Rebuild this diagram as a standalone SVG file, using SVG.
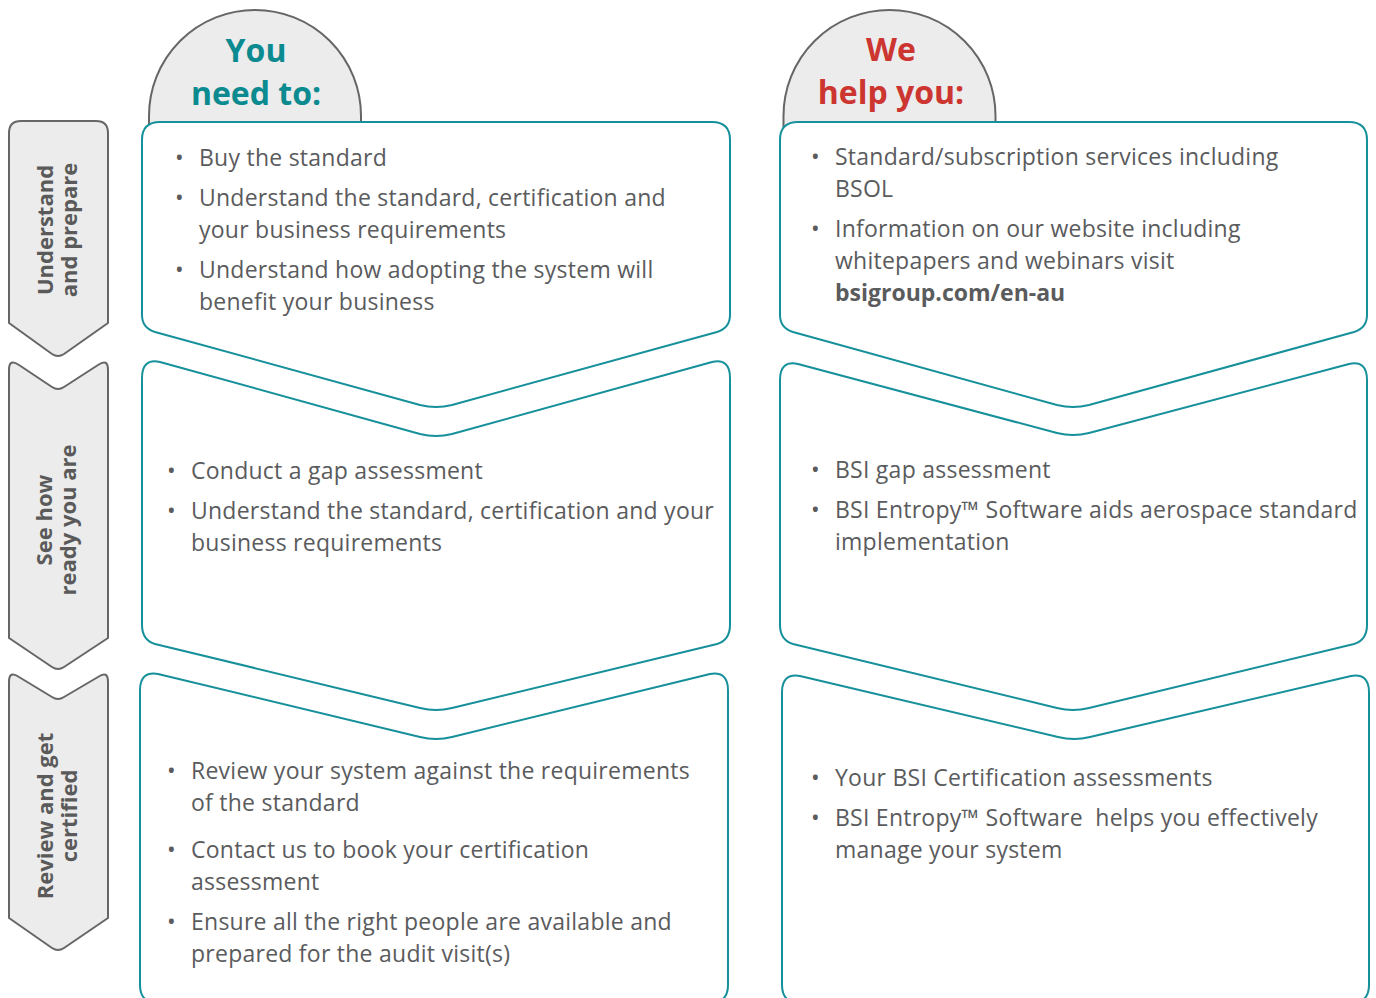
<svg xmlns="http://www.w3.org/2000/svg" width="1376" height="998" viewBox="0 0 1376 998">
<style>
.dome{fill:#ebeceb;stroke:#666;stroke-width:2}
.tab{fill:#ebeceb;stroke:#666;stroke-width:2;stroke-linejoin:round}
.panel{fill:#fff;stroke:#16909a;stroke-width:2;stroke-linejoin:round}
.t{font-family:"Open Sans","Liberation Sans",sans-serif;font-size:23px;fill:#5a5b5d;letter-spacing:0.25px}
.b{font-weight:bold;letter-spacing:0}
.tabt{font-family:"Open Sans","Liberation Sans",sans-serif;font-size:22px;font-weight:bold;fill:#5a5a5a;text-anchor:middle}
.head{font-family:"Open Sans","Liberation Sans",sans-serif;font-size:32px;font-weight:bold;text-anchor:middle}
</style>
<rect width="1376" height="998" fill="#fff"/>
<g id="head-you">
<path class="dome" d="M149,130 V116 A106,106 0 0 1 361,116 V130"/>
<text class="head" x="256" y="62" fill="#0b8a90">You</text>
<text class="head" x="256" y="105" fill="#0b8a90">need to:</text>
</g>
<g id="head-we">
<path class="dome" d="M783.5,130 V116 A106,106 0 0 1 995.5,116 V130"/>
<text class="head" x="891" y="61" fill="#cc3530">We</text>
<text class="head" x="891" y="104" fill="#cc3530">help you:</text>
</g>
<g id="tab1">
<path class="tab" d="M21,121 H96 Q108,121 108,133 V323 L64,354 Q58,358 52,354 L9,323 V133 Q9,121 21,121 Z"/>
<text class="tabt" transform="translate(53,230) rotate(-90)"><tspan x="0" y="0">Understand</tspan><tspan x="0" y="24">and prepare</tspan></text>
</g>
<g id="tab2">
<path class="tab" d="M9,370 Q9,358 19,365 L52,387 Q58,391 64,387 L98,365 Q108,358 108,370 V638 L64,667 Q58,671 52,667 L9,638 Z"/>
<text class="tabt" transform="translate(52,520) rotate(-90)"><tspan x="0" y="0">See how</tspan><tspan x="0" y="24">ready you are</tspan></text>
</g>
<g id="tab3">
<path class="tab" d="M9,682 Q9,670 19,677 L52,697 Q58,701 64,697 L98,677 Q108,670 108,682 V918 L64,948 Q58,952 52,948 L9,918 Z"/>
<text class="tabt" transform="translate(53,816) rotate(-90)"><tspan x="0" y="0">Review and get</tspan><tspan x="0" y="24">certified</tspan></text>
</g>
<g id="panel-l1">
<path class="panel" d="M160,122 H712 Q730,122 730,140 V315 Q730,328 717,332 L452,405 Q436,409 420,405 L155,332 Q142,328 142,315 V140 Q142,122 160,122 Z"/>
<text class="t" x="175" y="166">•</text><text class="t" x="199" y="166">Buy the standard</text>
<text class="t" x="175" y="206">•</text><text class="t" x="199" y="206">Understand the standard, certification and</text>
<text class="t" x="199" y="238">your business requirements</text>
<text class="t" x="175" y="278">•</text><text class="t" x="199" y="278">Understand how adopting the system will</text>
<text class="t" x="199" y="310">benefit your business</text>
</g>
<g id="panel-r1">
<path class="panel" d="M798,122 H1349 Q1367,122 1367,140 V315 Q1367,328 1354,332 L1089,405 Q1073,409 1057,405 L793,332 Q780,328 780,315 V140 Q780,122 798,122 Z"/>
<text class="t" x="811" y="165">•</text><text class="t" x="835" y="165">Standard/subscription services including</text>
<text class="t" x="835" y="197">BSOL</text>
<text class="t" x="811" y="237">•</text><text class="t" x="835" y="237">Information on our website including</text>
<text class="t" x="835" y="269">whitepapers and webinars visit</text>
<text class="t b" x="835" y="301">bsigroup.com/en-au</text>
</g>
<g id="panel-l2">
<path class="panel" d="M142,378 Q142,358 160,362 L420,434 Q436,438 452,434 L712,362 Q730,358 730,378 V625 Q730,640 717,644 L452,708 Q436,712 420,708 L155,644 Q142,640 142,625 Z"/>
<text class="t" x="167" y="479">•</text><text class="t" x="191" y="479">Conduct a gap assessment</text>
<text class="t" x="167" y="519">•</text><text class="t" x="191" y="519">Understand the standard, certification and your</text>
<text class="t" x="191" y="551">business requirements</text>
</g>
<g id="panel-r2">
<path class="panel" d="M780,380 Q780,360 798,364 L1057,433 Q1073,437 1089,433 L1349,364 Q1367,360 1367,380 V625 Q1367,640 1354,644 L1089,708 Q1073,712 1057,708 L793,644 Q780,640 780,625 Z"/>
<text class="t" x="811" y="478">•</text><text class="t" x="835" y="478">BSI gap assessment</text>
<text class="t" x="811" y="518">•</text><text class="t" x="835" y="518">BSI Entropy™ Software aids aerospace standard</text>
<text class="t" x="835" y="550">implementation</text>
</g>
<g id="panel-l3">
<path class="panel" d="M140,690 Q140,671 158,674 L420,737 Q436,741 452,737 L710,674 Q728,671 728,690 V985 Q728,1003 710,1003 H158 Q140,1003 140,985 Z"/>
<text class="t" x="167" y="779">•</text><text class="t" x="191" y="779">Review your system against the requirements</text>
<text class="t" x="191" y="811">of the standard</text>
<text class="t" x="167" y="858">•</text><text class="t" x="191" y="858">Contact us to book your certification</text>
<text class="t" x="191" y="890">assessment</text>
<text class="t" x="167" y="930">•</text><text class="t" x="191" y="930">Ensure all the right people are available and</text>
<text class="t" x="191" y="962">prepared for the audit visit(s)</text>
</g>
<g id="panel-r3">
<path class="panel" d="M782,692 Q782,673 800,676 L1058,737 Q1074,741 1090,737 L1351,676 Q1369,673 1369,692 V985 Q1369,1003 1351,1003 H800 Q782,1003 782,985 Z"/>
<text class="t" x="811" y="786">•</text><text class="t" x="835" y="786">Your BSI Certification assessments</text>
<text class="t" x="811" y="826">•</text><text class="t" x="835" y="826" xml:space="preserve">BSI Entropy™ Software  helps you effectively</text>
<text class="t" x="835" y="858">manage your system</text>
</g>
<g id="connectors"></g>
</svg>
